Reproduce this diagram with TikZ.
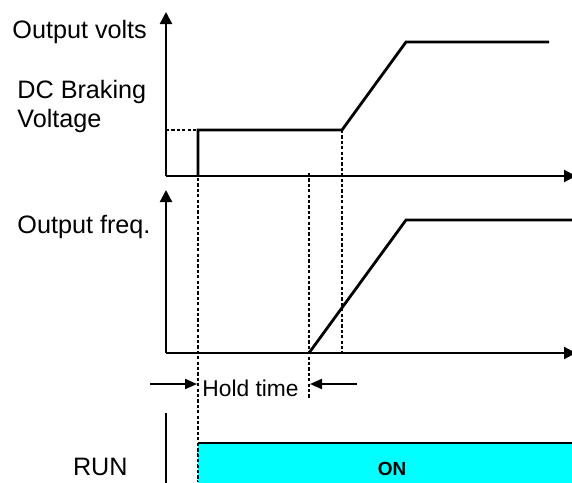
\documentclass[tikz,border=0pt]{standalone}
\usepackage{fontspec}
\setmainfont{Liberation Sans}
\usetikzlibrary{arrows.meta}
\definecolor{runcyan}{RGB}{0,255,255}

\begin{document}
\begin{tikzpicture}[x=0.5pt,y=-0.5pt,
  every node/.style={font=\fontsize{12.6}{14}\selectfont,inner sep=0pt},
  axis/.style={line width=1.1pt,-{Triangle[length=6pt,width=6pt]}},
  curve/.style={line width=1.4pt,line join=miter},
  guide/.style={line width=1.3pt,dash pattern=on 1.6pt off 1.1pt},
  holdarrow/.style={line width=1pt,-{Triangle[length=6pt,width=5pt]}}]
  \useasboundingbox (0,0) rectangle (572,482);

  % Output volts panel
  \coordinate (vorig) at (166,176);
  \draw[axis] (vorig) -- (166,12);
  \draw[axis] (vorig) -- (576,176);
  \node[anchor=base west] (voltlabel) at (12,38) {Output volts};
  \node[anchor=base west] (dclabel) at (17,98) {DC Braking};
  \node[anchor=base west] (dclabel2) at (17,127) {Voltage};
  \coordinate (vstart) at (198,176);
  \coordinate (vdc) at (198,130);
  \coordinate (vend) at (342,130);
  \coordinate (vtop) at (406,42);
  \draw[curve] (vstart) -- (vdc) -- (vend) -- (vtop) -- (549,42);
  \draw[guide] (166,130) -- (vdc);

  % Output freq. panel
  \coordinate (forig) at (166,353);
  \draw[axis] (forig) -- (166,190);
  \draw[axis] (forig) -- (576,353);
  \node[anchor=base west] (freqlabel) at (17,233) {Output freq.};
  \coordinate (fstart) at (309,353);
  \coordinate (ftop) at (406,220);
  \draw[curve] (fstart) -- (ftop) -- (574,220);

  % Guide lines
  \draw[guide] (198,178) -- (198,482);
  \draw[guide] (309,173) -- (309,398);
  \draw[guide] (vend) -- (342,353);

  % Hold time
  \node[anchor=base west,font=\fontsize{11.4}{13}\selectfont] (hold) at (202,396) {Hold time};
  \draw[holdarrow] (150,384) -- (197,384);
  \draw[holdarrow] (357,384) -- (310,384);

  % RUN signal
  \node[anchor=base east] (runlabel) at (128,475) {RUN};
  \draw[line width=1.1pt] (166,413) -- (166,484);
  \fill[runcyan] (198,443) rectangle (574,484);
  \draw[line width=1.1pt] (198,443) -- (574,443);
  \draw[guide] (198,443) -- (198,482);
  \node[font=\fontsize{9.5}{11}\selectfont\bfseries,anchor=base] (on) at (392,475) {ON};
\end{tikzpicture}
\end{document}
